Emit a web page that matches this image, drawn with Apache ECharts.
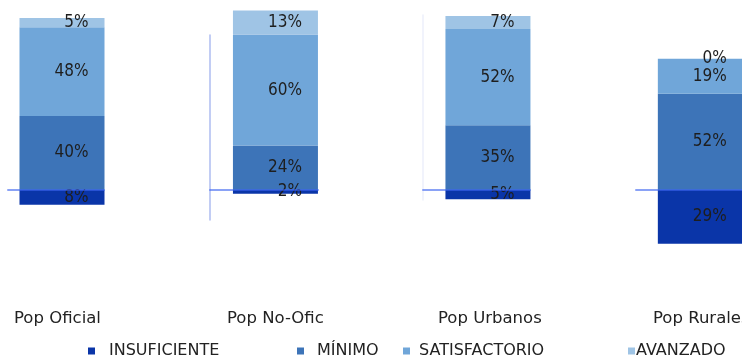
<!DOCTYPE html>
<html>
<head>
<meta charset="utf-8">
<script src="https://cdn.jsdelivr.net/npm/echarts@6/dist/echarts.min.js"></script>
<style>
  html, body { margin: 0; padding: 0; background: #fff; }
  #chart { width: 742px; height: 362px; }
</style>
</head>
<body>
<div id="chart"></div>
<script>
// datos por población (%)
const categories = ['Pop Oficial', 'Pop No-Oficial', 'Pop Urbanos', 'Pop Rurales'];
const levels = ['INSUFICIENTE', 'MÍNIMO', 'SATISFACTORIO', 'AVANZADO'];
const insuficiente = [8, 2, 5, 29];
const minimo = [40, 24, 35, 52];
const satisfactorio = [48, 60, 52, 19];
const avanzado = [5, 13, 7, 0];

const colors = ['#0a35a8', '#3d74b8', '#70a6d9', '#9fc4e5'];
const font = "'DejaVu Sans Condensed', 'DejaVu Sans', sans-serif";
const fontWide = "'DejaVu Sans', sans-serif";

// cada panel es una rejilla propia (escala común 1.85 px por %)
const scale = 1.85;
const base = 190;
const panels = [
  { left: 8,   width: 96,  top: 5,  bottom: 264, center: 56.25, yLine: null },
  { left: 210, width: 108, top: 35, bottom: 220, center: 60.6,  yLine: '#aebcf0' },
  { left: 423, width: 107, top: 15, bottom: 200, center: 60.7,  yLine: '#eceffb' },
  { left: 636, width: 107, top: 5,  bottom: 264, center: 60.7,  yLine: null }
];

let grid = [], xAxis = [], yAxis = [], series = [], title = [];
const values = [insuficiente, minimo, satisfactorio, avanzado];

panels.forEach((p, i) => {
  grid.push({ left: p.left, width: p.width, top: p.top, height: p.bottom - p.top });
  xAxis.push({
    type: 'value', gridIndex: i, min: 0, max: 100,
    axisLine: { show: true, onZero: true, lineStyle: { color: 'rgba(60,100,240,0.6)', width: 2 } },
    axisTick: { show: false }, axisLabel: { show: false }, splitLine: { show: false },
    z: 5
  });
  yAxis.push({
    type: 'value', gridIndex: i,
    max: (base - p.top) / scale,
    min: -(p.bottom - base) / scale,
    axisLine: { show: !!p.yLine, lineStyle: { color: p.yLine || '#fff', width: 1.5 } },
    axisTick: { show: false }, axisLabel: { show: false }, splitLine: { show: false }
  });
  levels.forEach((name, k) => {
    const v = values[k][i];
    series.push({
      name: name,
      type: 'bar',
      xAxisIndex: i, yAxisIndex: i,
      stack: 'p' + i,
      barWidth: 85,
      clip: false,
      // valor primero para que el apilado se haga sobre el eje y
      encode: { x: 1, y: 0 },
      itemStyle: { color: colors[k] },
      label: {
        show: true,
        position: 'insideRight',
        distance: 16,
        color: '#1e1e1e',
        fontFamily: font,
        fontSize: 17,
        formatter: (d) => Math.abs(d.value[0]) + '%'
      },
      data: [[k === 0 ? -v : v, p.center]]
    });
  });
});

// etiquetas de categoría (recortadas como en el original)
const titleLeft = [14, 227, 438, 653];
const titleWidth = [120, 100, 112, 120];
categories.forEach((c, i) => {
  title.push({
    text: c,
    left: titleLeft[i],
    top: 310,
    padding: 0,
    textStyle: {
      fontFamily: fontWide, fontSize: 16.5, fontWeight: 'normal', color: '#222',
      width: titleWidth[i], overflow: 'truncate', ellipsis: ''
    }
  });
});

const legendPos = [
  { left: 88, gap: 9 },
  { left: 297, gap: 8 },
  { left: 403, gap: 4 },
  { left: 628, gap: -4 }
];
const legend = levels.map((name, k) => ({
  data: [name],
  left: legendPos[k].left,
  top: 343,
  padding: 0,
  itemWidth: 7,
  itemHeight: 7,
  icon: 'rect',
  selectedMode: false,
  textStyle: {
    fontFamily: fontWide, fontSize: 16, color: '#222',
    padding: [0, 0, 0, legendPos[k].gap]
  }
}));

const myChart = echarts.init(document.getElementById('chart'));
myChart.setOption({
  animation: false,
  title: title,
  legend: legend,
  grid: grid,
  xAxis: xAxis,
  yAxis: yAxis,
  series: series
});
</script>
</body>
</html>
